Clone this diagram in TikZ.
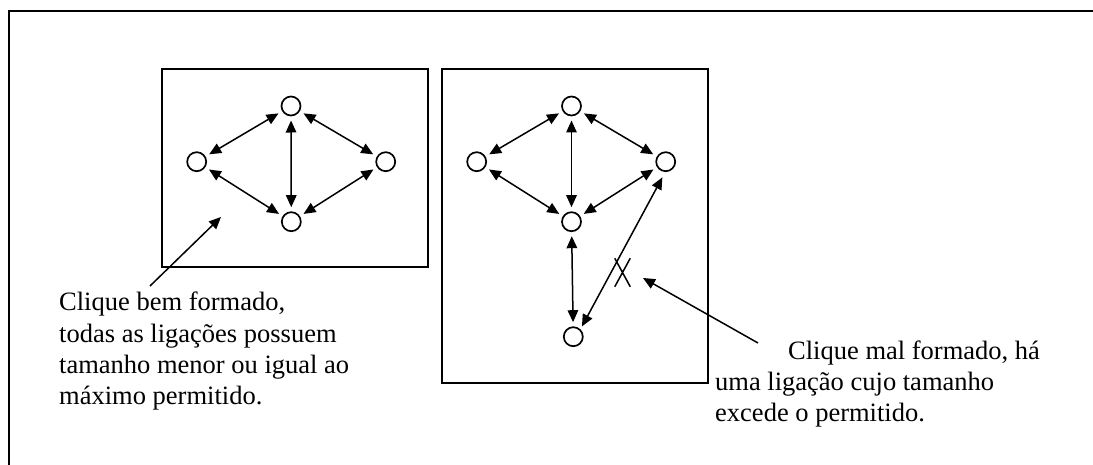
\documentclass[tikz,border=0pt]{standalone}
\usepackage{fontspec}
\setmainfont{Liberation Serif}
\usetikzlibrary{arrows.meta,shapes.misc}
\begin{document}
\begin{tikzpicture}[x=1pt,y=-1pt,
  vtx/.style={circle,draw,line width=1.7pt,minimum size=19pt,inner sep=0pt,outer sep=0pt},
  tipA/.tip={Triangle[length=12pt,width=10.5pt]},
  link/.style={line width=1.5pt,tipA-tipA,shorten <=5pt,shorten >=5pt},
  pointer/.style={line width=1.5pt,-tipA},
  boxline/.style={line width=1.5pt},
  lbl/.style={anchor=base west,inner sep=0pt,font=\fontsize{26.5}{31}\selectfont}
]
\useasboundingbox (0,0) rectangle (1093,465);
\clip (0,0) rectangle (1093,465);
% outer frame (only left and top visible)
\draw[line width=2pt] (9,470) -- (9,11) -- (1100,11);
% boxes
\draw[boxline] (162,69) rectangle (428,267);
\draw[boxline] (442,69) rectangle (708,383);
% left clique
\node[vtx] (lt) at (291,106) {};
\node[vtx] (ll) at (196.7,161.7) {};
\node[vtx] (lr) at (385.7,161.7) {};
\node[vtx] (lb) at (291.3,221.7) {};
\draw[link] (lt) -- (ll);
\draw[link] (ll) -- (lb);
\draw[link] (lt) -- (lb);
\draw[link] (lt) -- (lr);
\draw[link] (lr) -- (lb);
% right clique
\node[vtx] (rt) at (571.5,106) {};
\node[vtx] (rl) at (476.7,161.7) {};
\node[vtx] (rr) at (665.7,161.7) {};
\node[vtx] (rm) at (571.5,221.7) {};
\node[vtx] (rb) at (573.3,336.7) {};
\draw[link] (rt) -- (rl);
\draw[link] (rl) -- (rm);
\draw[link] (rt) -- (rm);
\draw[link] (rt) -- (rr);
\draw[link] (rr) -- (rm);
\draw[link] (rm) -- (rb);
\draw[link,shorten <=4pt,shorten >=7pt] (rb.north east) -- (rr.south);
% cross mark
\node[cross out,draw,line width=1.5pt,minimum width=14pt,minimum height=27pt,inner sep=0pt] (xm) at (622.5,272.5) {};
% left text
\node[lbl] (la) at (59,311) {Clique bem formado,};
\node[lbl] (lb2) at (59,342) {todas as ligações possuem};
\node[lbl] (lc) at (59,373) {tamanho menor ou igual ao};
\node[lbl] (ld) at (59,404) {máximo permitido.};
% right text
\node[lbl] (ra) at (788,359) {Clique mal formado, há};
\node[lbl] (rb2) at (715,390) {uma ligação cujo tamanho};
\node[lbl] (rc) at (715,421) {excede o permitido.};
% pointers
\coordinate (p1s) at (150,286);
\coordinate (p1e) at (221,217);
\coordinate (p2s) at (758,343);
\coordinate (p2e) at (643,278);
\draw[pointer] (p1s) -- (p1e);
\draw[pointer] (p2s) -- (p2e);
\end{tikzpicture}
\end{document}
